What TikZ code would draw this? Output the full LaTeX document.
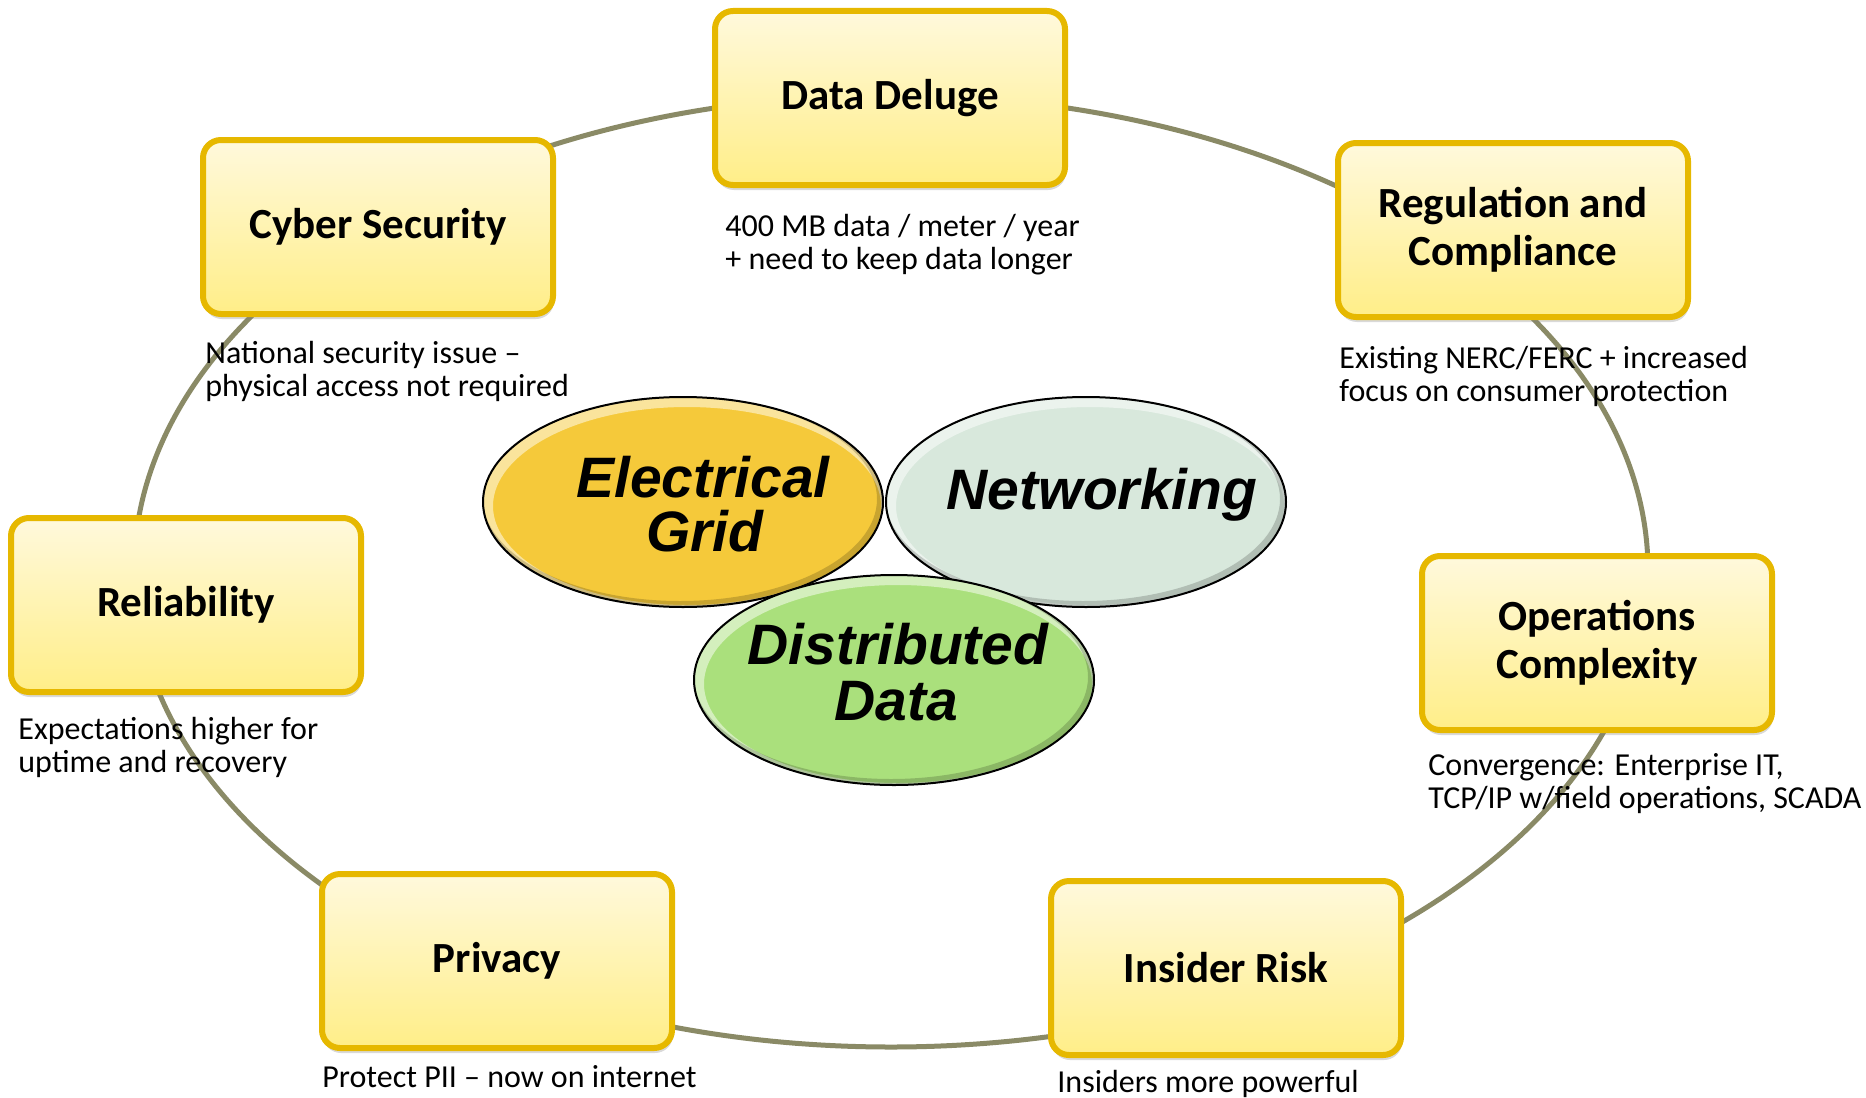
\documentclass[tikz,border=0pt]{standalone}
\usepackage{fontspec}
\setmainfont{Carlito}
\newfontfamily\ovalfont{Liberation Sans}
\usetikzlibrary{shapes.geometric,shadows}

\definecolor{ringline}{HTML}{8A8A66}
\definecolor{boxedge}{HTML}{E6B800}
\definecolor{boxtop}{HTML}{FFF9DC}
\definecolor{boxbot}{HTML}{FFEE88}
\definecolor{gridfill}{HTML}{F5C93A}
\definecolor{netfill}{HTML}{D8E8DC}
\definecolor{datafill}{HTML}{AAE07C}

\tikzset{
  topic/.style={draw=boxedge, line width=3pt, rounded corners=9pt,
    top color=boxtop, bottom color=boxbot,
    minimum width=175pt, minimum height=87pt, align=center,
    font=\fontsize{21.5}{24}\selectfont\bfseries,
    drop shadow={opacity=0.3, shadow xshift=0.5pt, shadow yshift=-2.5pt}},
  note/.style={anchor=base west, inner sep=0pt,
    font=\fontsize{16}{16.7}\selectfont},
  bevel/.style={path picture={
    \draw[white, opacity=.5, line width=6pt]
      ([shift={(2pt,-2pt)}]path picture bounding box.center)
      ellipse [x radius=100pt, y radius=52.5pt];
    \draw[black, opacity=.18, line width=3pt]
      ([shift={(-1.5pt,1.5pt)}]path picture bounding box.center)
      ellipse [x radius=100pt, y radius=52.5pt];}},
  oval/.style={ellipse, draw=black, line width=1pt, bevel,
    minimum width=200pt, minimum height=105pt, inner sep=0pt},
  ovaltext/.style={anchor=base, inner sep=0pt,
    font=\ovalfont\fontsize{28.5}{27}\selectfont\bfseries\itshape},
}

\begin{document}
\begin{tikzpicture}[x=0.5pt, y=-0.5pt]
\useasboundingbox (0,0) rectangle (1866,1097);

% ring that links the topics
\draw[ringline, line width=2.5pt] (891,571) ellipse [x radius=378.5pt, y radius=238pt];

% topic boxes
\node[topic] (deluge) at (890,98)   {Data Deluge};
\node[topic] (cyber)  at (378,227)  {Cyber Security};
\node[topic] (reg)    at (1513,230) {Regulation and\\Compliance};
\node[topic] (rel)    at (186,605)  {Reliability};
\node[topic] (ops)    at (1597,643) {Operations\\Complexity};
\node[topic] (priv)   at (497,961)  {Privacy};
\node[topic] (ins)    at (1226,968) {Insider Risk};

% notes under the boxes
\node[note] (delugenote) at (725,236)  {\vtop{\hbox{400 MB data / meter / year}\hbox{+ need to keep data longer}}};
\node[note] (cybernote)  at (205,363)  {\vtop{\hbox{National security issue –}\hbox{physical access not required}}};
\node[note] (regnote)    at (1339,368) {\vtop{\hbox{Existing NERC/FERC + increased}\hbox{focus on consumer protection}}};
\node[note] (relnote)    at (18,739)   {\vtop{\hbox{Expectations higher for}\hbox{uptime and recovery}}};
\node[note] (opsnote)    at (1428,775) {\vtop{\hbox{Convergence: Enterprise IT,}\hbox{TCP/IP w/field operations, SCADA}}};
\node[note] (privnote)   at (322,1087) {Protect PII – now on internet};
\node[note] (insnote)    at (1057,1092) {Insiders more powerful};

% central domains
\node[oval, fill=gridfill] (grid) at (683,502) {};
\node[oval, fill=netfill]  (net)  at (1086,502) {};
\node[oval, fill=datafill] (dist) at (894,680) {};

\node[ovaltext] (gridA) at (703,497)  {Electrical};
\node[ovaltext] (gridB) at (705,551)  {Grid};
\node[ovaltext] (netA)  at (1102,509) {Networking};
\node[ovaltext] (distA) at (898,664)  {Distributed};
\node[ovaltext] (distB) at (896,720)  {Data};
\end{tikzpicture}
\end{document}
